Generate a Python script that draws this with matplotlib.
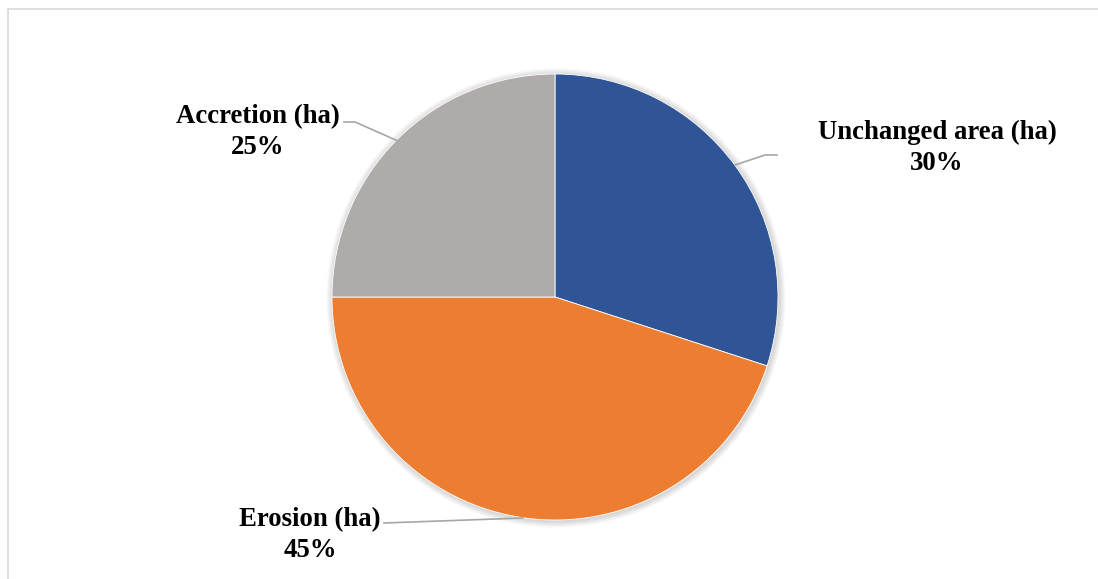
import matplotlib
matplotlib.use('Agg')
import matplotlib.pyplot as plt
from matplotlib.patches import Circle

labels = ["Unchanged area (ha)", "Erosion (ha)", "Accretion (ha)"]
shares = [30, 45, 25]
colors = ["#2F5597", "#ED7D31", "#AFABAB"]

W, H = 1098, 579
plt.rcParams['font.family'] = ['Liberation Serif', 'DejaVu Serif']

fig = plt.figure(figsize=(W / 100, H / 100), dpi=100)
ax = fig.add_axes([0, 0, 1, 1])

# chart frame (only top and left edges visible)
ax.plot([8, 8, W], [0, H - 9, H - 9], color="#D9D9D9", lw=1.2, solid_capstyle='butt')

cx, cy, r = 555, H - 297, 223

# soft shadow around the pie
for i in range(8):
    ax.add_patch(Circle((cx + 1, cy - 1), r + 1 + i * 0.8, color="black",
                        alpha=0.018, lw=0, zorder=1))

wedges, _ = ax.pie(shares, colors=colors, startangle=90, counterclock=False,
                   center=(cx, cy), radius=r, frame=True,
                   wedgeprops=dict(edgecolor="white", linewidth=0.6, zorder=2))
ax.set_xlim(0, W)
ax.set_ylim(0, H)
ax.set_aspect('equal')
ax.axis('off')

# label text centre and leader line points (pixel coords, y down)
layout = {
    "Unchanged area (ha)": dict(tx=937, ty=148, line=[(777, 155), (765, 155), (735, 165)]),
    "Erosion (ha)": dict(tx=310, ty=535, line=[(384, 523), (523, 518)]),
    "Accretion (ha)": dict(tx=258, ty=132, line=[(344, 122), (355, 122), (398, 141)]),
}

for lab, val in zip(labels, shares):
    L = layout[lab]
    xs = [p[0] for p in L["line"]]
    ys = [H - p[1] for p in L["line"]]
    ax.plot(xs, ys, color="#A6A6A6", lw=1.2, zorder=3)
    ax.text(L["tx"], H - L["ty"], f"{lab}\n{val}%", ha="center", va="center",
            fontsize=19.3, fontweight="bold", color="black", linespacing=1.3,
            zorder=4)

fig.savefig("out.png", dpi=100, facecolor="white")
